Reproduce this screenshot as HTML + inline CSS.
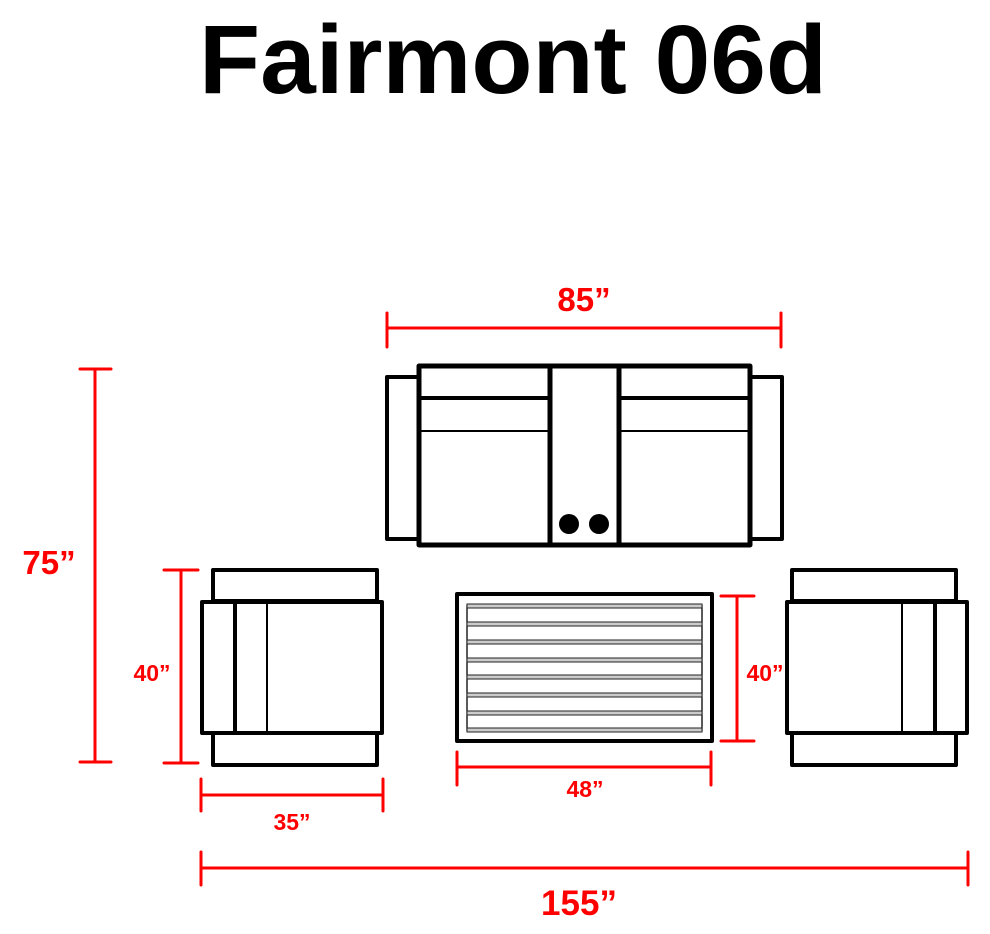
<!DOCTYPE html>
<html><head><meta charset="utf-8"><style>
html,body{margin:0;padding:0;background:#fff;}
svg{display:block;}
</style></head><body>
<svg width="990" height="934" viewBox="0 0 990 934" xmlns="http://www.w3.org/2000/svg">
<text x="513" y="93" text-anchor="middle" font-family="Liberation Sans, sans-serif" font-weight="bold" font-size="97" textLength="628" lengthAdjust="spacingAndGlyphs" fill="#000">Fairmont 06d</text>

<g fill="none" stroke="#000" stroke-linejoin="round">
<!-- sofa -->
<rect x="387" y="377" width="32" height="162" stroke-width="4"/>
<rect x="750" y="377" width="32" height="162" stroke-width="4"/>
<rect x="419" y="366" width="331" height="179" stroke-width="5"/>
<line x1="550" y1="366" x2="550" y2="545" stroke-width="5"/>
<line x1="619" y1="366" x2="619" y2="545" stroke-width="5"/>
<line x1="419" y1="398" x2="550" y2="398" stroke-width="4"/>
<line x1="619" y1="398" x2="750" y2="398" stroke-width="4"/>
<line x1="419" y1="431" x2="550" y2="431" stroke-width="2"/>
<line x1="619" y1="431" x2="750" y2="431" stroke-width="2"/>
<!-- left chair -->
<rect x="213" y="570" width="164" height="31" stroke-width="4"/>
<rect x="213" y="733" width="164" height="32" stroke-width="4"/>
<rect x="202" y="602" width="180" height="131" stroke-width="4"/>
<line x1="235" y1="602" x2="235" y2="733" stroke-width="4"/>
<line x1="267" y1="602" x2="267" y2="733" stroke-width="2"/>
<!-- right chair -->
<rect x="792" y="570" width="164" height="31" stroke-width="4"/>
<rect x="792" y="733" width="164" height="32" stroke-width="4"/>
<rect x="787" y="602" width="180" height="131" stroke-width="4"/>
<line x1="935" y1="602" x2="935" y2="733" stroke-width="4"/>
<line x1="902" y1="602" x2="902" y2="733" stroke-width="2"/>
<!-- table -->
<rect x="457" y="594" width="255" height="147" stroke-width="4"/>
<line x1="467" y1="605" x2="467" y2="731" stroke-width="1.3"/>
<line x1="702" y1="605" x2="702" y2="731" stroke-width="1.3"/>
</g>
<g fill="#ccc" stroke="#222" stroke-width="1">
<rect x="467" y="604" width="235" height="4"/>
<rect x="467" y="622" width="235" height="4"/>
<rect x="467" y="640" width="235" height="4"/>
<rect x="467" y="658" width="235" height="4"/>
<rect x="467" y="675" width="235" height="4"/>
<rect x="467" y="693" width="235" height="4"/>
<rect x="467" y="711" width="235" height="4"/>
<rect x="467" y="728" width="235" height="4"/>
</g>
<circle cx="569" cy="524" r="10" fill="#000"/>
<circle cx="599" cy="524" r="10" fill="#000"/>

<g stroke="#f00" stroke-width="3" stroke-linecap="round" fill="none">
<line x1="387" y1="328" x2="781" y2="328"/><line x1="387" y1="313" x2="387" y2="347"/><line x1="781" y1="313" x2="781" y2="347"/>
<line x1="95" y1="369" x2="95" y2="762"/><line x1="80" y1="369" x2="111" y2="369"/><line x1="80" y1="762" x2="111" y2="762"/>
<line x1="181" y1="570" x2="181" y2="763"/><line x1="164" y1="570" x2="198" y2="570"/><line x1="164" y1="763" x2="198" y2="763"/>
<line x1="201" y1="795" x2="383" y2="795"/><line x1="201" y1="779" x2="201" y2="811"/><line x1="383" y1="779" x2="383" y2="811"/>
<line x1="457" y1="767" x2="711" y2="767"/><line x1="457" y1="752" x2="457" y2="785"/><line x1="711" y1="752" x2="711" y2="785"/>
<line x1="737" y1="596" x2="737" y2="741"/><line x1="721" y1="596" x2="754" y2="596"/><line x1="721" y1="741" x2="754" y2="741"/>
<line x1="201" y1="868" x2="968" y2="868"/><line x1="201" y1="852" x2="201" y2="885"/><line x1="968" y1="852" x2="968" y2="885"/>
</g>
<g fill="#f00" font-family="Liberation Sans, sans-serif" font-weight="bold">
<text x="584" y="311" font-size="33" text-anchor="middle">85”</text>
<text x="49" y="574" font-size="33" text-anchor="middle">75”</text>
<text x="579" y="915" font-size="35" text-anchor="middle">155”</text>
<text x="152" y="681" font-size="23" text-anchor="middle">40”</text>
<text x="765" y="681" font-size="23" text-anchor="middle">40”</text>
<text x="292" y="830" font-size="23" text-anchor="middle">35”</text>
<text x="585" y="797" font-size="23" text-anchor="middle">48”</text>
</g>
</svg>
</body></html>
